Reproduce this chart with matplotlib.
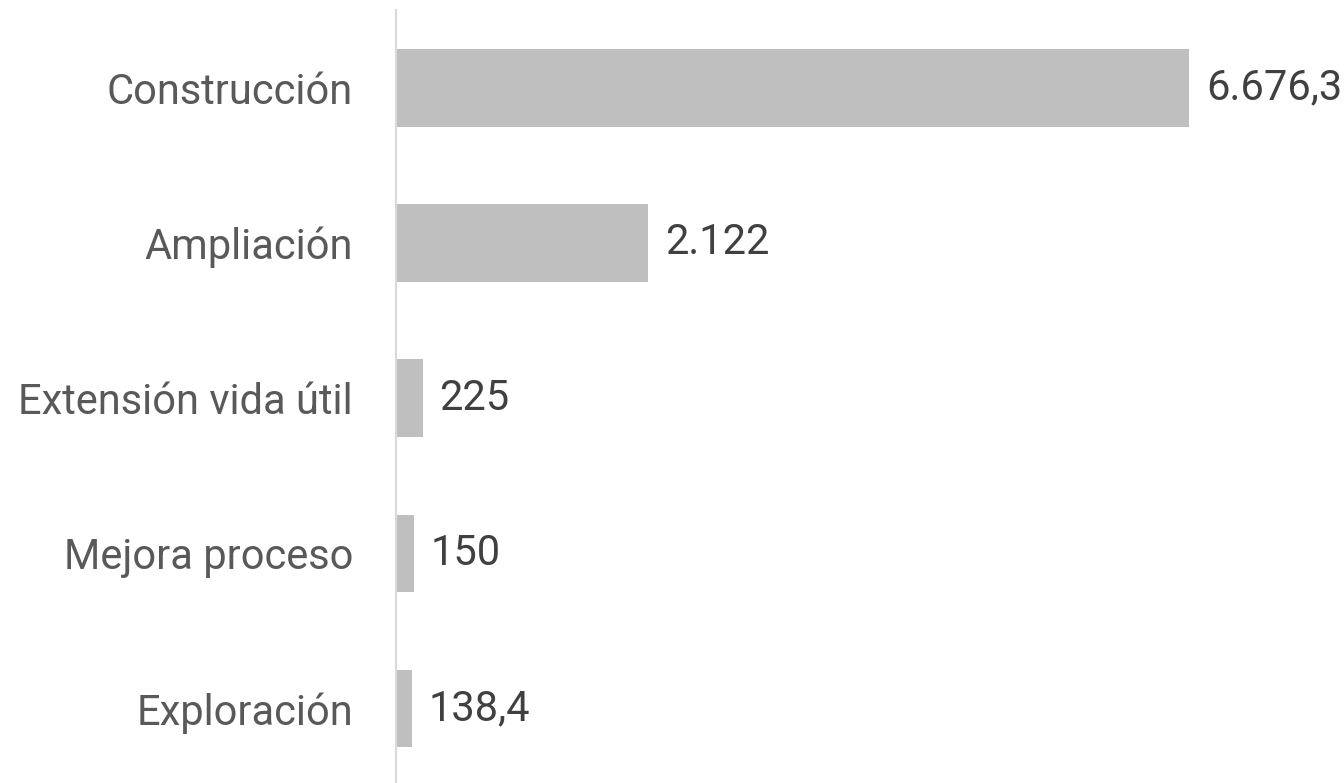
import matplotlib.pyplot as plt

# data
categorias = ["Construcción", "Ampliación", "Extensión vida útil", "Mejora proceso", "Exploración"]
valores = [6676.3, 2122, 225, 150, 138.4]
etiquetas = ["6.676,3", "2.122", "225", "150", "138,4"]

plt.rcParams['font.family'] = ['Roboto', 'DejaVu Sans']

fig = plt.figure(figsize=(13.44, 7.83), dpi=100)
ax = fig.add_axes([0.2946, -0.004, 0.7054, 0.991])

ypos = list(range(len(categorias)))
ax.barh(ypos, valores, height=0.5, color='#bfbfbf')

# value labels next to bars
for y, v, t in zip(ypos, valores, etiquetas):
    ax.annotate(t, xy=(v, y), xytext=(12, 0), textcoords='offset points',
                va='center', ha='left', fontsize=30, color='#404040')

ax.set_yticks(ypos)
ax.set_yticklabels(categorias, fontsize=30, color='#595959')
ax.tick_params(axis='y', length=0, pad=31)
ax.set_xticks([])
ax.set_xlim(0, 7980)
ax.set_ylim(4.5, -0.5)

for s in ['top', 'right', 'bottom']:
    ax.spines[s].set_visible(False)
ax.spines['left'].set_color('#d9d9d9')
ax.spines['left'].set_linewidth(1.5)

fig.savefig('out.png', dpi=100)
